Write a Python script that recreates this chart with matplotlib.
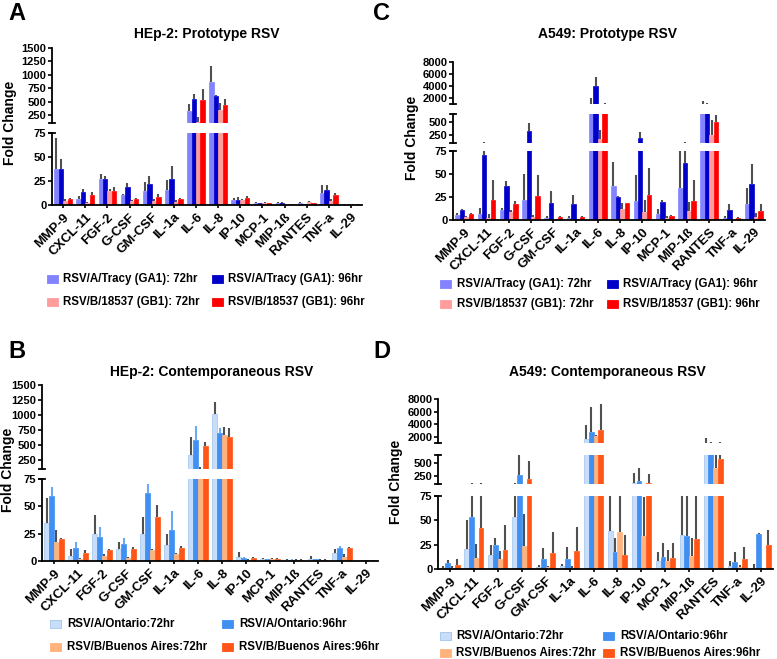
import matplotlib
matplotlib.use('Agg')
import matplotlib.pyplot as plt
from matplotlib.patches import Rectangle
import numpy as np

W, H = 777, 659
plt.rcParams['font.family'] = ['Liberation Sans', 'DejaVu Sans']
plt.rcParams['font.weight'] = 'bold'

cytokines = ['MMP-9', 'CXCL-11', 'FGF-2', 'G-CSF', 'GM-CSF', 'IL-1a', 'IL-6', 'IL-8',
             'IP-10', 'MCP-1', 'MIP-1ß', 'RANTES', 'TNF-a', 'IL-29']

proto_labels = ['RSV/A/Tracy (GA1): 72hr', 'RSV/A/Tracy (GA1): 96hr',
                'RSV/B/18537 (GB1): 72hr', 'RSV/B/18537 (GB1): 96hr']
cont_labels = ['RSV/A/Ontario:72hr', 'RSV/A/Ontario:96hr',
               'RSV/B/Buenos Aires:72hr', 'RSV/B/Buenos Aires:96hr']
proto_colors = ['#8383ff', '#0000c8', '#ff9c9c', '#ff0000']
cont_colors = ['#c8ddf7', '#3f90f2', '#ffb27c', '#ff5516']

# A: HEp-2, prototype strains (mean, upper error)
hep_proto_a72 = [37, 6, 27, 10, 15, 16, 325, 869, 5, 2, 2, 2, 13, 0.5]
hep_proto_a72_err = [33, 3, 5, 1, 9, 10, 125, 290, 2, 1, 1, 1, 8, 0.2]
hep_proto_a96 = [37, 14, 27, 19, 22, 27, 556, 606, 5, 2, 2, 1, 16, 0.5]
hep_proto_a96_err = [11, 3, 3, 4, 8, 14, 88, 25, 3, 0.5, 1, 0.5, 5, 0.2]
hep_proto_b72 = [4, 2, 15, 4, 4, 3, 125, 344, 5, 2, 1, 3, 4, 0.5]
hep_proto_b72_err = [2, 1, 2, 1, 2, 2, 94, 125, 1, 1, 0.5, 1, 2, 0.2]
hep_proto_b96 = [6, 10, 15, 6, 8, 6, 531, 431, 7, 2, 1, 2, 10, 0.5]
hep_proto_b96_err = [1, 4, 4, 1, 3, 1, 200, 119, 2, 0.5, 0.5, 0.5, 2, 0.2]

# B: HEp-2, contemporaneous strains
hep_cont_a72 = [35, 5, 25, 11, 25, 15, 333, 1017, 4, 2, 1, 2, 7, 0.5]
hep_cont_a72_err = [23, 6, 17, 6, 15, 10, 295, 205, 4, 1, 0.5, 3, 4, 0.2]
hep_cont_a96 = [59, 12, 22, 16, 62, 28, 583, 706, 3, 1.5, 1, 1.5, 12, 0.5]
hep_cont_a96_err = [9, 5, 9, 5, 8, 18, 234, 72, 1, 0.5, 0.5, 0.5, 2, 0.2]
hep_cont_b72 = [17, 2, 5, 3, 10, 6, 100, 667, 1, 2, 1, 1, 4, 0.3]
hep_cont_b72_err = [11, 1, 1, 1, 1, 1, 40, 139, 1, 1, 0.5, 0.5, 2, 0.2]
hep_cont_b96 = [20, 7, 10, 11, 40, 12, 483, 628, 3, 2, 1, 1, 12, 0.5]
hep_cont_b96_err = [1, 3, 1, 2, 11, 2, 73, 161, 1, 0.5, 0.5, 0.5, 1, 0.2]

# C: A549, prototype strains
a549_proto_a72 = [5, 6, 11, 22, 2, 2, 900, 37, 21, 6, 35, 900, 2, 17]
a549_proto_a72_err = [3, 7, 2, 28, 2, 2, 1100, 26, 28, 6, 40, 600, 2, 18]
a549_proto_a96 = [11, 71, 37, 331, 18, 17, 4000, 25, 200, 20, 62, 1050, 11, 39]
a549_proto_a96_err = [1.5, 49, 5, 150, 14, 10, 1500, 1, 110, 2, 58, 80, 6, 22]
a549_proto_b72 = [3, 2, 9, 3, 0.5, 0.5, 170, 12, 9, 2, 10, 250, 0.3, 3]
a549_proto_b72_err = [1, 4, 2, 2, 0.2, 0.2, 170, 7, 13, 2, 10, 280, 0.2, 5]
a549_proto_b96 = [6, 22, 17, 26, 3, 3, 900, 18, 27, 4, 21, 500, 2, 10]
a549_proto_b96_err = [2, 21, 4, 23, 1, 1, 200, 1, 30, 1, 23, 140, 1, 7]

# D: A549, contemporaneous strains
a549_cont_a72 = [1, 21, 14, 53, 2, 3, 1600, 39, 110, 8, 35, 900, 3, 1]
a549_cont_a72_err = [2, 29, 11, 57, 2, 2, 2300, 66, 190, 9, 45, 900, 5, 4]
a549_cont_a96 = [6, 53, 25, 270, 10, 10, 2780, 17, 150, 12, 34, 900, 7, 36]
a549_cont_a96_err = [3, 62, 7, 395, 12, 13, 3870, 15, 260, 15, 46, 250, 10, 1]
a549_cont_b72 = [1, 11, 10, 24, 2, 1, 2100, 38, 34, 8, 13, 400, 2, 0.5]
a549_cont_b72_err = [2, 15, 8, 32, 1, 2, 200, 40, 40, 12, 19, 265, 2, 0.2]
a549_cont_b96 = [4, 42, 20, 190, 16, 18, 3000, 14, 110, 11, 31, 565, 10, 25]
a549_cont_b96_err = [6, 73, 25, 350, 22, 25, 4200, 21, 180, 16, 49, 585, 13, 15]


def px_box(left, top, right, bottom):
    return [left / W, 1 - bottom / H, (right - left) / W, (bottom - top) / H]


def draw_panel(fig, x0, x1, segments, series, errors, colors, edges, err_colors):
    x = np.arange(len(cytokines))
    offsets = [-0.3, -0.1, 0.1, 0.3]
    cap = 3.0 / (x1 - x0)
    for i, (lo, hi, ybot, ytop, ticks) in enumerate(segments):
        ax = fig.add_axes(px_box(x0, ytop, x1, ybot))
        ax.patch.set_alpha(0)
        for k in range(4):
            ax.bar(x + offsets[k], series[k], width=0.2, color=colors[k],
                   edgecolor=edges[k], linewidth=0.5, zorder=2)
            ax.vlines(x + offsets[k], series[k], np.add(series[k], errors[k]),
                      color=err_colors[k], lw=1.5, zorder=1)
        ax.set_xlim(-0.5, 13.5)
        ax.set_ylim(lo, hi)
        ax.set_yticks(ticks)
        ax.tick_params(axis='y', labelsize=8, length=3, width=1.2, pad=1)
        for s in ['top', 'right']:
            ax.spines[s].set_visible(False)
        ax.spines['left'].set_linewidth(1.3)
        for lab in ax.get_yticklabels():
            lab.set_fontweight('bold')
        if i == 0:
            ax.spines['bottom'].set_linewidth(1.3)
            ax.set_xticks(x)
            ax.set_xticklabels(cytokines, rotation=45, ha='right',
                               rotation_mode='anchor', fontsize=9.5, fontweight='bold')
            ax.tick_params(axis='x', length=2.5, width=1.2, pad=2)
            ax.plot([-cap, cap], [1, 1], transform=ax.transAxes, color='k',
                    lw=1.3, clip_on=False)
        else:
            ax.spines['bottom'].set_visible(False)
            ax.set_xticks([])
            ax.plot([-cap, cap], [0, 0], transform=ax.transAxes, color='k',
                    lw=1.3, clip_on=False)
            if i < len(segments) - 1:
                ax.plot([-cap, cap], [1, 1], transform=ax.transAxes, color='k',
                        lw=1.3, clip_on=False)


def draw_legend(ov, labels, colors, edges, rows, marks, texts):
    for k in range(4):
        r, c = k // 2, k % 2
        ov.add_patch(Rectangle((marks[c], rows[r] - 4), 11, 8, facecolor=colors[k],
                               edgecolor=edges[k], lw=0.6))
        ov.text(texts[c], rows[r], labels[k], fontsize=8.3, fontweight='bold',
                va='center', ha='left')


fig = plt.figure(figsize=(W / 100, H / 100), dpi=100)
ov = fig.add_axes([0, 0, 1, 1])
ov.set_xlim(0, W)
ov.set_ylim(H, 0)
ov.axis('off')

proto_edges = proto_colors
cont_edges = ['#9fc3ee', cont_colors[1], cont_colors[2], cont_colors[3]]
gray = '#505050'

two_seg_a = [(0, 75, 205, 133, [0, 25, 50, 75]),
             (100, 1500, 123, 48, [250, 500, 750, 1000, 1250, 1500])]
two_seg_b = [(0, 75, 561, 479, [0, 25, 50, 75]),
             (100, 1500, 469, 385, [250, 500, 750, 1000, 1250, 1500])]
three_seg_c = [(0, 75, 220, 151, [0, 25, 50, 75]),
               (100, 650, 143, 114, [250, 500]),
               (1000, 8000, 104, 62, [2000, 4000, 6000, 8000])]
three_seg_d = [(0, 75, 569, 496, [0, 25, 50, 75]),
               (100, 650, 484, 455, [250, 500]),
               (1000, 8000, 443, 399, [2000, 4000, 6000, 8000])]

draw_panel(fig, 52, 362, two_seg_a,
           [hep_proto_a72, hep_proto_a96, hep_proto_b72, hep_proto_b96],
           [hep_proto_a72_err, hep_proto_a96_err, hep_proto_b72_err, hep_proto_b96_err],
           proto_colors, proto_edges, [gray] * 4)
draw_panel(fig, 453, 765, three_seg_c,
           [a549_proto_a72, a549_proto_a96, a549_proto_b72, a549_proto_b96],
           [a549_proto_a72_err, a549_proto_a96_err, a549_proto_b72_err, a549_proto_b96_err],
           proto_colors, proto_edges, [gray] * 4)
draw_panel(fig, 42, 378, two_seg_b,
           [hep_cont_a72, hep_cont_a96, hep_cont_b72, hep_cont_b96],
           [hep_cont_a72_err, hep_cont_a96_err, hep_cont_b72_err, hep_cont_b96_err],
           cont_colors, cont_edges, [gray, '#6aaaf5', gray, gray])
draw_panel(fig, 438, 773, three_seg_d,
           [a549_cont_a72, a549_cont_a96, a549_cont_b72, a549_cont_b96],
           [a549_cont_a72_err, a549_cont_a96_err, a549_cont_b72_err, a549_cont_b96_err],
           cont_colors, cont_edges, [gray] * 4)

# titles, panel letters, axis labels
for txt, x, y in [('HEp-2: Prototype RSV', 207, 34), ('A549: Prototype RSV', 608, 34),
                  ('HEp-2: Contemporaneous RSV', 212, 372),
                  ('A549: Contemporaneous RSV', 607, 372)]:
    ov.text(x, y, txt, fontsize=10, fontweight='bold', ha='center', va='center')
for txt, x, y in [('A', 17, 14), ('C', 382, 14), ('B', 17, 351), ('D', 382, 352)]:
    ov.text(x, y, txt, fontsize=17, fontweight='bold', ha='center', va='center')
for x, y in [(10, 123), (412, 138), (8, 470), (396, 482)]:
    ov.text(x, y, 'Fold Change', fontsize=10, fontweight='bold', rotation=90,
            ha='center', va='center')

draw_legend(ov, proto_labels, proto_colors, proto_edges, [279, 302], [47, 212], [63, 228])
draw_legend(ov, proto_labels, proto_colors, proto_edges, [284, 304], [440, 607], [457, 623])
draw_legend(ov, cont_labels, cont_colors, cont_edges, [624, 647], [50, 222], [67, 239])
draw_legend(ov, cont_labels, cont_colors, cont_edges, [636, 653], [440, 603], [456, 620])

fig.savefig('out.png', dpi=100)
